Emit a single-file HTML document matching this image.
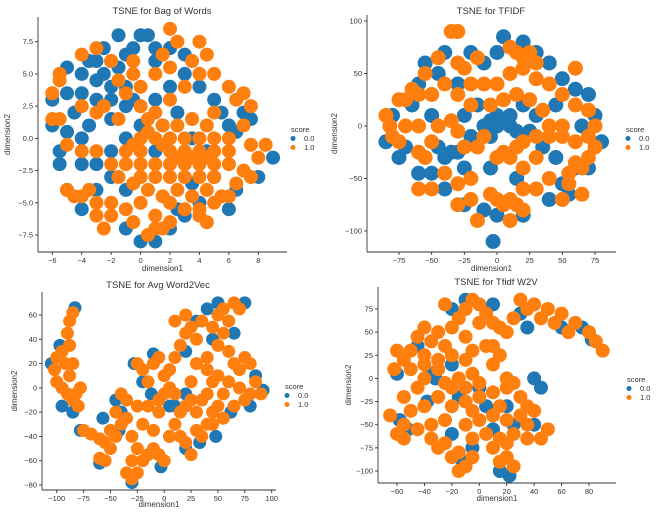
<!DOCTYPE html>
<html><head><meta charset="utf-8"><style>
body{margin:0;background:#fff;width:658px;height:512px;overflow:hidden;font-family:"Liberation Sans",sans-serif}
svg{display:block}
text{font-family:"Liberation Sans",sans-serif;fill:#333}
</style></head><body>
<svg id="c" width="658" height="512"></svg>
<script>
const bowBlue=[-2,6,-1.5,5.5,-2.5,5,-1,6.5,-2,4,-3,4.5,-1,4,-0.5,7,0,8,0.5,8,-1.5,8,-3,3,-2,3,-4,3.5,-5,3.5,-4.5,2,-3.5,1,-5,0.5,-4,0,-2,1.5,-1,2.5,-0.5,3,1,3,2,4,3,5,1,6,1,7,2,7,3,6.5,4,4,5,3,5.5,2,6,1,6.5,0.5,7,2,7.5,1.5,9,-1.5,8,-3,6.5,-4,6,-5.5,4,-5,3,-6,2,-7,1,-8,0,-8,-1,-7,-1,-4,-2,-3,-3,-4,-4,-5.5,-5,-4,-5.5,-2,-4,-2,-3,-2,-2,-1,-1,0,0,1,1,-1,-3,6,-4,5,-5,5.5,-2.5,7,-3.5,6,3.5,0,2.5,2,1.5,1,4.5,-1,5,-3,-6,3,-6,1,-5.5,-1,2.5,-5.5,3.5,-3.5];
const bowOrange=[0,0,0.5,0.5,1,0,1.5,-0.5,2,-1,2.5,-1.5,3,-1,3.5,-1.5,4,-2,4.5,-1.5,5,-2,5,-1,4,-1,3,-2,2,-2,1,-2,0,-1,-0.5,-0.5,0,-2,1,-3,2,-3,3,-3,4,-3,5,-3,0,-3,-1,-2,-1,-1,0.5,1.5,1.5,1,2,0,3,0,4,0,5,0,6,-1,6,-2,7,-2.5,6.5,-3.5,7.5,-3,5.5,-4.5,4.5,-4,3.5,-4.5,2.5,-4,1.5,-4.5,0.5,-4,-0.5,-3.5,-1.5,-3,-2,-2,-3,-1,-4,-1,-5,-0.5,-5.5,1.5,-6,1.5,-6,3.5,-5.5,4.5,-5.5,5,-4,6.5,-3,7,-2,6,-1.5,4.5,-0.5,5,0,4,1,5,2,5.5,2,3,3,4,3.5,6,4.5,6.5,4,5,5,5,6,4,6.5,3,7,3.5,7.5,2.5,7,1,6,0,7.5,-0.5,8.5,-0.5,8,-1.5,-4.5,-4.5,-4,-4.5,-3.5,-4,-5,-4,-3,-5,-2,-5,-1,-5.5,0,-5,1,-6,1,-7,0.5,-7.5,1.5,-7,2,-6.5,3,-5.5,4,-5.5,5,-5,6,-4.5,-2.5,2.5,-3,2,-4,2.5,-1.5,1.5,-1,3.5,0,2.5,1,2,2.5,1,3.5,1.5,4.5,1,5,2,-0.5,6,1.5,6.5,2.5,7.5,2,8.5,4,7.5,4,-6,4.5,-6.5,-2,-6,-2.5,-7,-3,-6,-0.5,-6.5,2,-5];
const tfBlue=[0,0,5,5,-5,5,10,0,15,-5,-10,0,0,10,10,10,-5,-10,-35,-25,-40,-30,-30,-25,-45,-20,-20,-10,-25,-40,-50,-45,-60,-45,-75,-30,-85,-15,-80,10,-70,-20,-65,20,-60,40,-45,50,-40,70,-20,70,-10,60,0,70,5,85,20,80,30,70,40,60,50,45,60,35,70,30,75,10,80,-15,70,-40,60,-40,50,-55,40,-70,20,-85,0,-85,-10,-80,-25,-75,-40,-60,25,-5,30,10,20,20,35,-20,45,-30,-15,20,-25,10,-3,-110,55,-65,-55,60,-5,-40,15,-50,45,20,65,0,-50,10,-30,40];
const tfOrange=[10,-30,5,-25,0,-30,15,-20,10,-70,5,-75,0,-70,15,-75,20,-80,-5,-65,15,70,20,65,25,70,10,75,30,60,20,55,60,-35,65,-40,70,-30,55,-45,-30,90,-35,90,-30,60,-25,55,-65,35,-70,25,-60,30,-75,25,-85,10,-82,0,-80,-10,-75,-15,-50,30,-40,40,-20,40,-10,40,0,40,10,50,30,45,40,40,50,30,60,20,70,15,75,0,70,-10,60,-15,50,-10,40,-10,30,-30,20,-40,40,-50,50,-70,30,-60,20,-60,-20,-70,-30,-75,-20,-50,-30,-55,-40,-45,-55,-30,-60,-25,-50,-15,-45,0,-35,5,-20,20,-30,-5,-10,-10,-15,-20,-25,-20,-5,20,5,25,15,30,25,25,35,15,40,0,50,0,20,-15,30,-10,-55,50,-45,65,-30,30,-15,65,-60,0,-70,0,-60,-60,-50,-60,10,-90,-15,-90,65,-65,75,-20,60,55,55,-55];
const w2vBlue=[-83,66,-97,35,-105,20,-95,-15,-85,-20,-78,-35,-57,-25,-60,-62,-40,-20,-30,-78,-3,-65,5,-15,-20,5,10,-15,20,-5,33,-45,-28,20,-10,28,40,65,50,70,75,70,85,10,92,-2,80,-15,62,-20,48,-40,20,-50,45,40,20,30,30,55,65,45,-42,-35,-12,-5,5,-40,-45,-10];
const w2vOrange=[-85,62,-88,55,-90,45,-88,35,-95,30,-100,25,-102,15,-100,5,-95,0,-90,-5,-85,-10,-88,10,-82,-5,-80,-15,-92,20,-85,20,-78,0,-75,-35,-68,-38,-60,-42,-55,-45,-50,-50,-55,-60,-60,-58,-45,-40,-40,-30,-35,-25,-30,-40,-25,-50,-30,-60,-35,-70,-30,-75,-25,-70,-20,-60,-15,-55,-10,-50,-5,-55,0,-60,-10,-35,-20,-30,-25,-15,-35,-10,-40,-5,-15,-15,-5,-20,-45,-20,-50,-35,-25,20,-20,15,-10,20,-5,25,0,10,5,0,10,-5,15,-20,20,-15,25,-10,10,-30,5,-40,15,-40,20,-45,30,-35,35,-40,40,-30,30,-20,35,-10,45,-20,50,-15,55,-25,45,-30,5,15,10,25,15,35,20,45,10,55,20,60,25,50,30,40,35,55,45,50,50,60,55,65,65,70,70,65,60,55,55,45,50,35,60,30,65,20,70,15,75,25,80,20,70,0,75,-10,80,-5,85,5,90,-5,60,5,50,10,40,15,30,20,25,5,40,-5,45,5,55,-5,65,-15,40,25,25,-55,-5,-10,-15,5,0,-5];
const tw2vBlue=[-10,85,10,80,-20,75,-45,35,-58,-45,-52,-55,-35,5,-32,0,-20,15,-15,-20,5,-30,10,-55,25,-50,40,-50,45,-10,20,-30,-5,-75,15,-100,22,-105,-12,-90,60,55,75,55,82,42,30,70,35,55,-60,5,0,-10,40,0,-20,-60,-38,-25];
const tw2vOrange=[-5,85,0,80,-10,75,-15,65,5,70,10,60,15,55,20,50,-20,55,-30,50,-40,55,-45,45,-35,40,-25,35,-50,30,-60,30,-55,20,-62,10,-50,10,-40,15,-30,20,-20,25,-10,20,-5,30,5,35,15,25,10,15,-5,5,0,-5,-10,-10,-15,0,-25,-5,-30,-20,-40,-30,-50,-35,-55,-50,-60,-60,-45,-55,-35,-50,-25,-45,-20,-30,-10,-25,0,-20,10,-15,20,-10,25,-5,30,-20,35,-30,40,-35,30,-40,20,-45,10,-40,0,-45,-10,-50,-5,-65,5,-60,15,-65,25,-60,35,-65,45,-65,50,-55,-30,-75,-25,-70,-15,-80,-5,-85,-10,-95,-15,-100,10,-75,20,-85,25,-95,15,-90,30,85,40,80,50,75,60,70,70,60,80,50,85,40,90,30,55,60,65,50,45,65,35,75,25,65,-25,80,-30,10,20,0,-40,0,-45,-10,-20,-10,-5,-35,15,-30,35,-50,-35,-65,-55,-20,-40,25,-10,45,0,60,10,35,20,-70,-20,-85,-55,-65,-65,-40];
const bowXTicks=[-6,-4,-2,0,2,4,6,8], bowYTicks=[-7.5,-5,-2.5,0,2.5,5,7.5];
const tfXTicks=[-75,-50,-25,0,25,50,75], tfYTicks=[-100,-50,0,50,100];
const w2vXTicks=[-100,-75,-50,-25,0,25,50,75,100], w2vYTicks=[-80,-60,-40,-20,0,20,40,60];
const tw2vXTicks=[-60,-40,-20,0,20,40,60,80], tw2vYTicks=[-100,-75,-50,-25,0,25,50,75];
const legendLabels=['0.0','1.0'];

const NS='http://www.w3.org/2000/svg';
const svg=document.getElementById('c');
function el(tag,attrs,parent,txt){const e=document.createElementNS(NS,tag);for(const k in attrs)e.setAttribute(k,attrs[k]);if(txt!==undefined)e.textContent=txt;parent.appendChild(e);return e;}
function panel(cfg){
  const g=el('g',{},svg);
  
  
  const sx=v=>cfg.x0px+(v-cfg.x0)*(cfg.x1px-cfg.x0px)/(cfg.x1-cfg.x0);
  const sy=v=>cfg.y0px+(v-cfg.y0)*(cfg.y1px-cfg.y0px)/(cfg.y1-cfg.y0);
  const t=el('text',{x:cfg.titleX,y:cfg.titleY,'text-anchor':'middle','font-size':'9.5'},g,cfg.title);
  
  
  const pts=el('g',{},g);
  
  
  for(let i=0;i<cfg.blue.length;i+=2){const c=el('circle',{cx:sx(cfg.blue[i]),cy:sy(cfg.blue[i+1]),r:cfg.r,fill:'#1f77b4'},pts);
    
    }
  for(let i=0;i<cfg.orange.length;i+=2){const c=el('circle',{cx:sx(cfg.orange[i]),cy:sy(cfg.orange[i+1]),r:cfg.r,fill:'#ff7f0e'},pts);
    
    }
  const ax=el('g',{stroke:'#333','stroke-width':'0.9'},g);
  
  
  el('line',{x1:cfg.left,y1:cfg.top,x2:cfg.left,y2:cfg.bottom},ax);
  el('line',{x1:cfg.left,y1:cfg.bottom,x2:cfg.right,y2:cfg.bottom},ax);
  cfg.xt.forEach(v=>{const x=sx(v);el('line',{x1:x,y1:cfg.bottom,x2:x,y2:cfg.bottom+3},ax);
    const tx=el('text',{x:x,y:cfg.bottom+11,'text-anchor':'middle','font-size':'7.5',stroke:'none'},ax,String(v).replace('-','\u2212'));
    
    });
  cfg.yt.forEach(v=>{const y=sy(v);el('line',{x1:cfg.left-3,y1:y,x2:cfg.left,y2:y},ax);
    const s=cfg.dec?v.toFixed(1):String(v);
    const ty=el('text',{x:cfg.left-5,y:y+2.5,'text-anchor':'end','font-size':'7.5',stroke:'none'},ax,s.replace('-','\u2212'));
    
    });
  const xl=el('text',{x:(cfg.left+cfg.right)/2,y:cfg.xlabY,'text-anchor':'middle','font-size':'8'},g,'dimension1');
  
  
  const yl=el('text',{x:0,y:0,'text-anchor':'middle','font-size':'8',transform:`translate(${cfg.ylabX},${(cfg.top+cfg.bottom)/2}) rotate(-90)`},g,'dimension2');
  
  
  const lg=el('g',{},g);
  
  
  el('text',{x:cfg.legX,y:cfg.legY,'font-size':'7.5'},lg,'score');
  legendLabels.forEach((l,i)=>{const yy=cfg.legY+9+i*9;
    const m=el('circle',{cx:cfg.legX+2,cy:yy-2.5,r:2.5,fill:i?'#ff7f0e':'#1f77b4'},lg);
    
    
    const lt=el('text',{x:cfg.legX+13,y:yy,'font-size':'7.5'},lg,l);
    
    });
}
panel({name:'bow-panel',title:'TSNE for Bag of Words',titleX:162,titleY:14,blue:bowBlue,orange:bowOrange,r:7,
  x0:-6,x1:8,x0px:52.3,x1px:258.3,y0:7.5,y1:-7.5,y0px:41.7,y1px:235,left:38,right:287,top:17,bottom:252,
  xt:bowXTicks,yt:bowYTicks,dec:true,xlabY:271,ylabX:10,legX:291,legY:132});
panel({name:'tfidf-panel',title:'TSNE for TFIDF',titleX:491,titleY:14,blue:tfBlue,orange:tfOrange,r:7.5,
  x0:-75,x1:75,x0px:399,x1px:595,y0:100,y1:-100,y0px:21,y1px:231,left:367,right:616,top:15,bottom:252,
  xt:tfXTicks,yt:tfYTicks,dec:false,xlabY:271,ylabX:337,legX:626,legY:132});
panel({name:'avg-w2v-panel',title:'TSNE for Avg Word2Vec',titleX:158,titleY:288,blue:w2vBlue,orange:w2vOrange,r:6.5,
  x0:-100,x1:100,x0px:56.7,x1px:271.7,y0:60,y1:-80,y0px:315,y1px:485,left:42,right:276,top:292,bottom:490,
  xt:w2vXTicks,yt:w2vYTicks,dec:false,xlabY:507,ylabX:17,legX:285,legY:389});
panel({name:'tfidf-w2v-panel',title:'TSNE for Tfidf W2V',titleX:496,titleY:285,blue:tw2vBlue,orange:tw2vOrange,r:7,
  x0:-60,x1:80,x0px:397,x1px:589,y0:75,y1:-100,y0px:309,y1px:471,left:378,right:616,top:287,bottom:483,
  xt:tw2vXTicks,yt:tw2vYTicks,dec:false,xlabY:501,ylabX:351,legX:627,legY:382});
</script>
</body></html>
